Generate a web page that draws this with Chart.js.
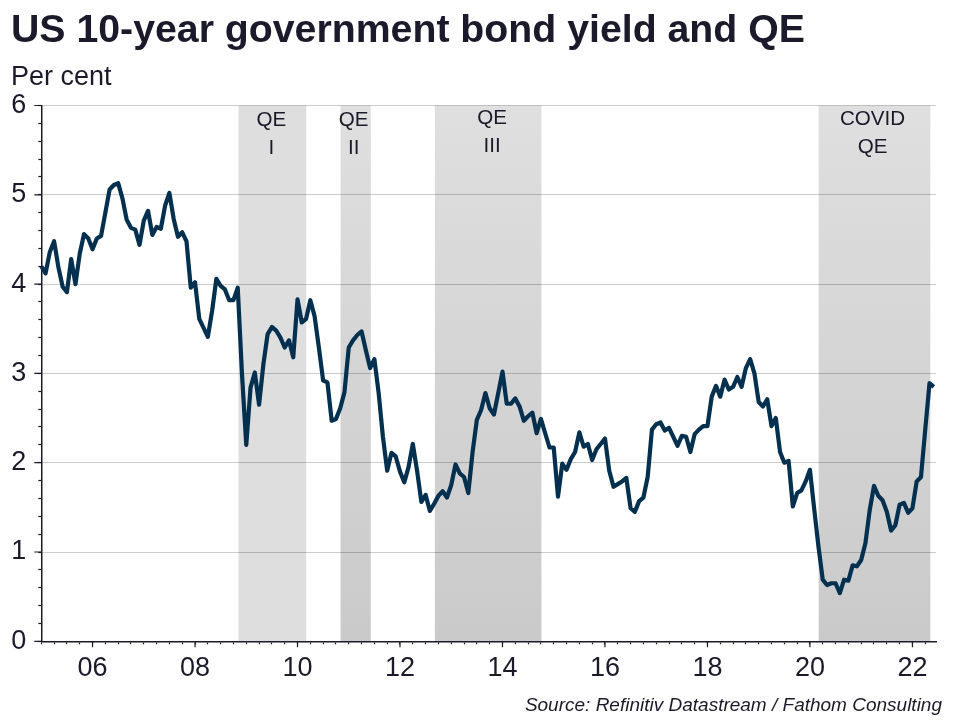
<!DOCTYPE html>
<html>
<head>
<meta charset="utf-8">
<style>html,body{margin:0;padding:0;background:#fff}canvas{display:block}</style>
<script src="https://cdn.jsdelivr.net/npm/chart.js@4"></script>
</head>
<body>
<canvas id="c" width="960" height="720" style="width:960px;height:720px"></canvas>
<script>
const firstYear = 2005;
const yields = [
4.20,4.12,4.36,4.48,4.19,3.97,3.91,4.28,4.00,4.34,4.56,4.51,
4.39,4.51,4.54,4.80,5.06,5.11,5.13,4.96,4.72,4.63,4.61,4.44,
4.71,4.82,4.55,4.64,4.62,4.88,5.02,4.73,4.53,4.58,4.48,3.96,
4.02,3.61,3.51,3.41,3.70,4.06,3.98,3.94,3.82,3.82,3.96,2.99,
2.20,2.84,3.01,2.65,3.10,3.44,3.52,3.48,3.40,3.29,3.37,3.18,
3.83,3.57,3.61,3.82,3.64,3.29,2.92,2.90,2.47,2.49,2.61,2.79,
3.29,3.37,3.43,3.47,3.26,3.06,3.16,2.78,2.29,1.91,2.11,2.07,
1.90,1.78,1.95,2.21,1.91,1.56,1.64,1.46,1.54,1.63,1.68,1.61,
1.75,1.98,1.88,1.84,1.66,2.12,2.48,2.59,2.78,2.61,2.54,2.78,
3.02,2.66,2.66,2.72,2.63,2.47,2.52,2.56,2.33,2.49,2.33,2.17,
2.17,1.62,1.99,1.92,2.04,2.12,2.34,2.18,2.21,2.03,2.15,2.21,
2.27,1.91,1.73,1.76,1.79,1.83,1.49,1.45,1.57,1.61,1.84,2.37,
2.43,2.45,2.36,2.39,2.29,2.19,2.30,2.29,2.12,2.32,2.37,2.41,
2.41,2.74,2.86,2.74,2.93,2.82,2.85,2.96,2.85,3.06,3.16,3.00,
2.68,2.63,2.71,2.41,2.50,2.12,2.00,2.02,1.51,1.66,1.69,1.79,
1.92,1.48,1.06,0.69,0.63,0.65,0.65,0.54,0.69,0.68,0.85,0.84,
0.91,1.10,1.47,1.74,1.63,1.58,1.45,1.24,1.30,1.53,1.55,1.44,
1.49,1.79,1.84,2.37,2.89,2.85
];
const bandStarts = [2008.85, 2010.84, 2012.68, 2020.17];
const bandEnds   = [2010.17, 2011.43, 2014.76, 2022.35];
const bandLine1  = ["QE", "QE", "QE", "COVID"];
const bandLine2  = ["I", "II", "III", "QE"];
const titleText = "US 10-year government bond yield and QE";
const unitText = "Per cent";
const sourceText = "Source: Refinitiv Datastream / Fathom Consulting";

const ink = "#1a1a2a";
const FONT = '"Liberation Sans", Arial, sans-serif';
const points = yields.map((v, i) => ({ x: firstYear + i / 12, y: v }));
const isInt = v => Math.abs(v - Math.round(v)) < 1e-6;

const decorations = {
  id: "decorations",
  beforeDraw(chart) {
    const { ctx, chartArea: a, scales: { x } } = chart;
    ctx.save();
    bandStarts.forEach((s, i) => {
      const x0 = x.getPixelForValue(s), x1 = x.getPixelForValue(bandEnds[i]);
      if (i === 0) {
        ctx.fillStyle = "#dedede";
      } else {
        const g = ctx.createLinearGradient(0, a.top, 0, a.bottom);
        g.addColorStop(0, "#dfdfdf");
        g.addColorStop(1, "#cacaca");
        ctx.fillStyle = g;
      }
      ctx.fillRect(x0, a.top, x1 - x0, a.bottom - a.top);
    });
    ctx.restore();
  },
  afterDraw(chart) {
    const { ctx, chartArea: a, scales: { x, y } } = chart;
    ctx.save();
    ctx.strokeStyle = ink;
    ctx.lineWidth = 1.2;
    ctx.beginPath();
    x.ticks.forEach(t => {
      if (isInt(t.value) && Math.round(t.value) % 2 === 0) {
        const px = x.getPixelForValue(t.value);
        ctx.moveTo(px, a.bottom);
        ctx.lineTo(px, a.bottom + 6);
      }
    });
    y.ticks.forEach(t => {
      if (isInt(t.value)) {
        const py = y.getPixelForValue(t.value);
        ctx.moveTo(a.left, py);
        ctx.lineTo(a.left - 7, py);
      }
    });
    ctx.stroke();
    ctx.fillStyle = ink;
    ctx.font = "20.6px " + FONT;
    ctx.textAlign = "center";
    ctx.textBaseline = "middle";
    const line1Y = [120, 120, 118, 119], line2Y = [148, 148, 146, 147], nudge = [-1, -2, 4, -2];
    bandStarts.forEach((s, i) => {
      const cx = (x.getPixelForValue(s) + x.getPixelForValue(bandEnds[i])) / 2 + nudge[i];
      ctx.fillText(bandLine1[i], cx, line1Y[i]);
      ctx.fillText(bandLine2[i], cx, line2Y[i]);
    });
    ctx.font = "italic 19px " + FONT;
    ctx.textAlign = "right";
    ctx.fillText(sourceText, 942, 706);
    ctx.restore();
  }
};

new Chart(document.getElementById("c"), {
  type: "line",
  data: {
    datasets: [{
      data: points,
      borderColor: "#03304f",
      borderWidth: 4.2,
      borderJoinStyle: "round",
      pointRadius: 0,
      tension: 0,
      clip: false
    }]
  },
  plugins: [decorations],
  options: {
    responsive: false,
    animation: false,
    devicePixelRatio: 1,
    layout: { padding: { left: 11, right: 24, top: 8, bottom: 0 } },
    plugins: {
      legend: { display: false },
      tooltip: { enabled: false },
      title: {
        display: true, text: titleText, align: "start", color: ink,
        font: { family: FONT, size: 39.25, weight: "bold", lineHeight: 1.2 },
        padding: { top: 0, bottom: 6 }
      },
      subtitle: {
        display: true, text: unitText, align: "start", color: ink,
        font: { family: FONT, size: 27, weight: "normal", lineHeight: 1.2 },
        padding: { top: 0, bottom: 12 }
      }
    },
    scales: {
      x: {
        type: "linear", min: firstYear, max: 2022.46,
        afterFit(s) { s.height = 720 - 641.3; },
        border: { color: ink, width: 1.5 },
        grid: { drawOnChartArea: false, tickLength: 3, tickColor: ink, tickWidth: 1.2 },
        ticks: {
          stepSize: 0.25, autoSkip: false, maxRotation: 0, minRotation: 0, includeBounds: false,
          color: ink, padding: 8, font: { family: FONT, size: 27 },
          callback: v => (isInt(v) && Math.round(v) % 2 === 0) ? String(Math.round(v)).slice(2) : ""
        }
      },
      y: {
        min: 0, max: 6,
        afterFit(s) { s.width = 30.3; },
        border: { color: ink, width: 1.5 },
        grid: {
          color: c => isInt(c.tick.value) ? "rgba(0,0,0,0.2)" : "rgba(0,0,0,0)",
          lineWidth: 1, tickLength: 3, tickColor: ink, tickWidth: 1.2
        },
        ticks: {
          stepSize: 0.2, autoSkip: false, color: ink, padding: 12,
          font: { family: FONT, size: 27 },
          callback: v => isInt(v) ? String(Math.round(v)) : ""
        }
      }
    }
  }
});
</script>
</body>
</html>
